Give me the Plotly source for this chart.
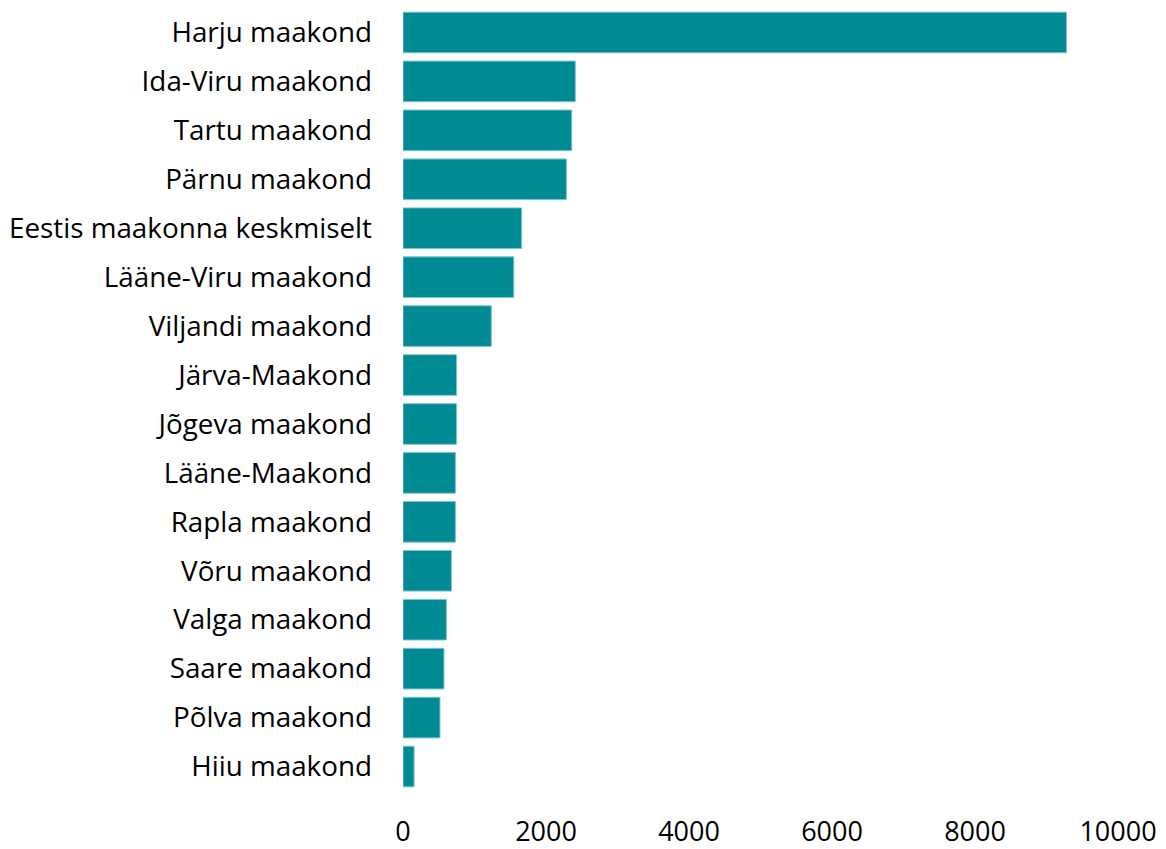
import plotly.graph_objects as go

categories = ["Harju maakond", "Ida-Viru maakond", "Tartu maakond", "Pärnu maakond",
              "Eestis maakonna keskmiselt", "Lääne-Viru maakond", "Viljandi maakond",
              "Järva-Maakond", "Jõgeva maakond", "Lääne-Maakond", "Rapla maakond",
              "Võru maakond", "Valga maakond", "Saare maakond", "Põlva maakond", "Hiiu maakond"]
values = [9280, 2410, 2360, 2285, 1660, 1550, 1235, 750, 750, 733, 733, 677, 607, 573, 517, 155]
x_ticks = [0, 2000, 4000, 6000, 8000, 10000]
x_tick_labels = ["0", "2000", "4000", "6000", "8000", "10000"]

fig = go.Figure(go.Bar(
    x=values, y=categories, orientation="h",
    marker=dict(color="#008A94", line=dict(color="#7fc5ca", width=1)),
))
fig.update_layout(
    width=1158, height=841,
    margin=dict(l=395, r=48, t=0, b=53),
    paper_bgcolor="white", plot_bgcolor="white",
    bargap=0.17,
    showlegend=False,
    font=dict(family="Open Sans", size=27, color="#000000"),
)
fig.update_xaxes(range=[0, 10000], tickvals=x_ticks, ticktext=x_tick_labels,
                 showgrid=False, zeroline=False, showline=False, ticklabelstandoff=22)
fig.update_yaxes(categoryorder="array", categoryarray=categories[::-1], autorange=False,
                 range=[-0.5, len(categories) - 0.5], showgrid=False, showline=False,
                 ticklabelstandoff=30, tickfont=dict(size=27.8))
fig.write_html("out.html")
